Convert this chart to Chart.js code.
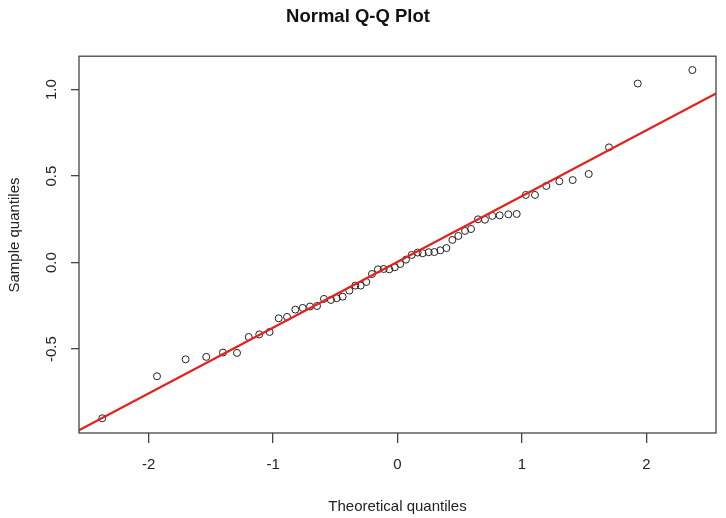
<!DOCTYPE html>
<html>
<head>
<meta charset="utf-8">
<script src="https://cdn.jsdelivr.net/npm/chart.js@4/dist/chart.umd.min.js"></script>
<style>
  html, body { margin: 0; padding: 0; background: #fff; }
  canvas { display: block; }
</style>
</head>
<body>
<canvas id="grafico" width="726" height="518"></canvas>
<script>
// theoretical quantiles (x) and sample quantiles (y)
const theoretical = [
  -2.373, -1.933, -1.703, -1.537, -1.403, -1.290, -1.196, -1.111, -1.028, -0.955,
  -0.888, -0.821, -0.762, -0.703, -0.647, -0.591, -0.535, -0.489, -0.441, -0.387,
  -0.339, -0.296, -0.251, -0.205, -0.157, -0.111, -0.066, -0.022,
  0.022, 0.068, 0.114, 0.162, 0.202, 0.251, 0.296, 0.344, 0.393, 0.441,
  0.489, 0.543, 0.591, 0.647, 0.703, 0.762, 0.821, 0.891, 0.958, 1.031,
  1.105, 1.196, 1.301, 1.408, 1.537, 1.700, 1.931, 2.370
];
const sample = [
  -0.900, -0.657, -0.559, -0.545, -0.520, -0.522, -0.430, -0.415, -0.401, -0.322,
  -0.314, -0.272, -0.262, -0.254, -0.251, -0.210, -0.216, -0.206, -0.197, -0.162,
  -0.133, -0.133, -0.112, -0.066, -0.039, -0.037, -0.039, -0.027,
  -0.008, 0.017, 0.044, 0.058, 0.054, 0.060, 0.061, 0.071, 0.084, 0.131,
  0.154, 0.183, 0.194, 0.250, 0.248, 0.270, 0.273, 0.279, 0.281, 0.391,
  0.391, 0.443, 0.470, 0.477, 0.512, 0.666, 1.035, 1.113
];

// qqline end points (clipped by the plot box)
const lineX = [-3, 3];
const lineY = [-1.136, 1.144];

const xTicks = [-2, -1, 0, 1, 2];
const yTicks = [-0.5, 0, 0.5, 1.0];
const yTickLabels = ["-0.5", "0.0", "0.5", "1.0"];

const FONT = "'Liberation Sans', Arial, sans-serif";
const cor = "#222";

const pontos = theoretical.map((x, i) => ({ x, y: sample[i] }));
const linha = lineX.map((x, i) => ({ x, y: lineY[i] }));

// box around the plot, rotated y tick labels and y title (R style)
const estiloR = {
  id: "estiloR",
  afterDraw(chart) {
    const { ctx, chartArea } = chart;
    const y = chart.scales.y;
    ctx.save();
    ctx.strokeStyle = "#444";
    ctx.lineWidth = 1.3;
    ctx.strokeRect(chartArea.left, chartArea.top,
      chartArea.right - chartArea.left, chartArea.bottom - chartArea.top);

    ctx.fillStyle = cor;
    ctx.font = "15px " + FONT;
    ctx.textAlign = "center";
    ctx.textBaseline = "middle";
    yTicks.forEach((v, i) => {
      const py = y.getPixelForValue(v);
      ctx.save();
      ctx.translate(52, py);
      ctx.rotate(-Math.PI / 2);
      ctx.fillText(yTickLabels[i], 0, 0);
      ctx.restore();
    });

    ctx.save();
    ctx.translate(15, 235);
    ctx.rotate(-Math.PI / 2);
    ctx.fillText("Sample quantiles", 0, 0);
    ctx.restore();
    ctx.restore();
  }
};

new Chart(document.getElementById("grafico").getContext("2d"), {
  type: "scatter",
  data: {
    datasets: [
      {
        label: "qqline",
        data: linha,
        showLine: true,
        borderColor: "#e3201b",
        borderWidth: 2.2,
        pointRadius: 0,
        fill: false
      },
      {
        label: "amostra",
        data: pontos,
        pointRadius: 3.5,
        pointBorderWidth: 1,
        pointBorderColor: "#222",
        pointBackgroundColor: "rgba(0,0,0,0)",
        showLine: false
      }
    ]
  },
  options: {
    responsive: false,
    animation: false,
    devicePixelRatio: 1,
    layout: { padding: { top: 0, right: 10, bottom: 0, left: 0 } },
    plugins: {
      legend: { display: false },
      tooltip: { enabled: false },
      title: {
        display: true,
        text: "Normal Q-Q Plot",
        color: "#111",
        font: { family: FONT, size: 18.5, weight: "bold", lineHeight: 1.2 },
        padding: { top: 6, bottom: 28 }
      }
    },
    scales: {
      x: {
        type: "linear",
        min: -2.56,
        max: 2.56,
        afterBuildTicks: (s) => { s.ticks = xTicks.map(v => ({ value: v })); },
        afterFit: (s) => { s.height = 85; },
        border: { display: false },
        grid: { drawOnChartArea: false, drawTicks: true, tickLength: 10, color: "#444", lineWidth: 1.3 },
        ticks: { color: cor, font: { family: FONT, size: 15 }, padding: 13, maxRotation: 0 },
        title: {
          display: true,
          text: "Theoretical quantiles",
          color: cor,
          font: { family: FONT, size: 15 },
          padding: { top: 0, bottom: 2 }
        }
      },
      y: {
        type: "linear",
        min: -0.985,
        max: 1.193,
        afterBuildTicks: (s) => { s.ticks = yTicks.map(v => ({ value: v })); },
        afterFit: (s) => { s.width = 79; },
        border: { display: false },
        grid: { drawOnChartArea: false, drawTicks: true, tickLength: 8, color: "#444", lineWidth: 1.3 },
        ticks: { callback: () => "", padding: 0 },
        title: { display: false }
      }
    }
  },
  plugins: [estiloR]
});
</script>
</body>
</html>
